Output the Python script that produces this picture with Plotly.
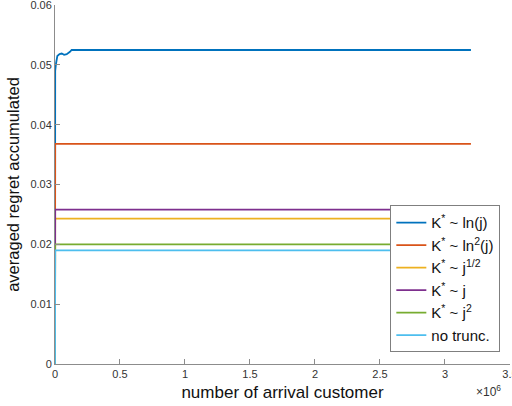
import plotly.graph_objects as go

# Cumulative averaged regret versus number of arriving customers (x in units of 1e6 shown via axis exponent)
names = ["K<sup>*</sup> ~ ln(j)", "K<sup>*</sup> ~ ln<sup>2</sup>(j)", "K<sup>*</sup> ~ j<sup>1/2</sup>",
         "K<sup>*</sup> ~ j", "K<sup>*</sup> ~ j<sup>2</sup>", "no trunc."]
colors = ["#0072BD", "#D95319", "#EDB120", "#7E2F8E", "#77AC30", "#4DBEEE"]

x_ln = [0, 1500, 7700, 18000, 35000, 52000, 70000, 90000, 115000, 128000, 3200000]
y_ln = [0.0, 0.0490, 0.0502, 0.0515, 0.0518, 0.0519, 0.0517, 0.0518, 0.0522, 0.0525, 0.0525]

x_flat = [0, 1500, 3200000]
y_ln2 = [0.0, 0.0368, 0.0368]
y_sqrt = [0.0, 0.0243, 0.0243]
y_lin = [0.0, 0.0258, 0.0258]
y_sq = [0.0, 0.0200, 0.0200]
y_none = [0.0, 0.0190, 0.0190]

series = [(x_ln, y_ln), (x_flat, y_ln2), (x_flat, y_sqrt), (x_flat, y_lin), (x_flat, y_sq), (x_flat, y_none)]

x_ticks = [0, 500000, 1000000, 1500000, 2000000, 2500000, 3000000, 3500000]
x_ticktext = ["0", "0.5", "1", "1.5", "2", "2.5", "3", "3.5"]
y_ticks = [0, 0.01, 0.02, 0.03, 0.04, 0.05, 0.06]
y_ticktext = ["0", "0.01", "0.02", "0.03", "0.04", "0.05", "0.06"]

fig = go.Figure()
for (xs, ys), name, c in zip(series, names, colors):
    fig.add_trace(go.Scatter(x=xs, y=ys, mode="lines", name=name,
                             line=dict(color=c, width=1.8)))

axis_col = "#8c8c8c"
font_fam = "Liberation Sans, Arial, sans-serif"

fig.update_layout(
    width=512, height=406,
    margin=dict(l=55, r=2, t=5, b=42, autoexpand=False),
    paper_bgcolor="white", plot_bgcolor="white",
    font=dict(family=font_fam, color="#262626"),
    showlegend=True,
    legend=dict(x=0.737, y=0.442, xanchor="left", yanchor="top",
                bgcolor="white", bordercolor="#7f7f7f", borderwidth=1,
                font=dict(size=15, color="#111111", family=font_fam),
                itemwidth=30, tracegroupgap=0),
    xaxis=dict(range=[0, 3500500], tickvals=x_ticks, ticktext=x_ticktext,
               automargin=False,
               showgrid=False, zeroline=False, showline=True, linecolor=axis_col,
               linewidth=1, ticks="inside", ticklen=5, tickcolor=axis_col,
               ticklabeloverflow="allow",
               tickfont=dict(size=11, color="#333333"),
               title=dict(text="number of arrival customer", font=dict(size=17, color="#111111"),
                          standoff=6)),
    yaxis=dict(range=[0, 0.06002], tickvals=y_ticks, ticktext=y_ticktext,
               automargin=False,
               showgrid=False, zeroline=False, showline=True, linecolor=axis_col,
               linewidth=1, ticks="inside", ticklen=5, tickcolor=axis_col,
               ticklabeloverflow="allow",
               tickfont=dict(size=11, color="#333333"),
               title=dict(text="averaged regret accumulated", font=dict(size=16.5, color="#111111"),
                          standoff=6)),
)

fig.add_annotation(x=0.985, y=0, xref="paper", yref="paper", xanchor="right", yanchor="top",
                   yshift=-17, text="\u00d710<sup>6</sup>", showarrow=False,
                   font=dict(size=12, color="#333333"))

fig.write_html("out.html")
